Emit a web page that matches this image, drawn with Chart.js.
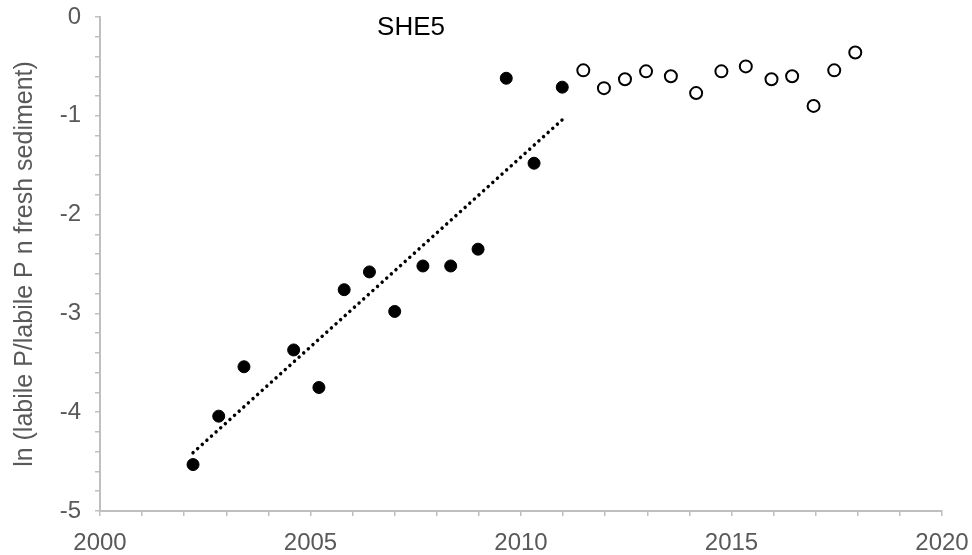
<!DOCTYPE html>
<html>
<head>
<meta charset="utf-8">
<script src="https://cdn.jsdelivr.net/npm/chart.js@4"></script>
<style>
    body { margin: 0; background: #ffffff; }
    #myChart { display: block; }
</style>
</head>
<body>
<canvas id="myChart" width="972" height="555"></canvas>
<script>
// Werte (Jahr / ln-Wert)
const filledYears = [2002.21, 2002.82, 2003.42, 2004.60, 2005.20, 2005.80, 2006.40, 2007.00, 2007.67, 2008.33, 2008.98, 2009.65, 2010.31, 2010.98];
const filledValues = [-4.53, -4.04, -3.54, -3.37, -3.75, -2.76, -2.58, -2.98, -2.52, -2.52, -2.35, -0.62, -1.48, -0.71];

const openYears = [2011.48, 2011.97, 2012.47, 2012.97, 2013.56, 2014.16, 2014.76, 2015.34, 2015.95, 2016.44, 2016.95, 2017.44, 2017.94];
const openValues = [-0.54, -0.72, -0.63, -0.55, -0.60, -0.77, -0.55, -0.50, -0.63, -0.60, -0.90, -0.54, -0.36];

// Trendlinie (Anfang und Ende)
const trendYears = [2002.21, 2010.98];
const trendValues = [-4.41, -1.04];

const xTickLabels = [2000, 2005, 2010, 2015, 2020];
const yTickLabels = [0, -1, -2, -3, -4, -5];

const chartTitle = 'SHE5';
const yAxisTitle = 'ln (labile P/labile P n fresh sediment)';

function toPoints(xs, ys) {
    return xs.map((x, i) => ({ x: x, y: ys[i] }));
}

Chart.defaults.font.family = "'Liberation Sans', Arial, sans-serif";

// Titel "SHE5" im Diagramm
const titlePlugin = {
    id: 'innerTitle',
    afterDraw(chart) {
        const ctx = chart.ctx;
        ctx.save();
        ctx.font = '26px "Liberation Sans", Arial, sans-serif';
        ctx.fillStyle = '#000000';
        ctx.textAlign = 'center';
        ctx.textBaseline = 'middle';
        ctx.fillText(chartTitle, 411, 28);
        ctx.restore();
    }
};

const ctx = document.getElementById('myChart').getContext('2d');

new Chart(ctx, {
    type: 'scatter',
    data: {
        datasets: [
            {
                type: 'line',
                label: 'Trend',
                data: toPoints(trendYears, trendValues),
                borderColor: '#000000',
                borderWidth: 3.5,
                borderDash: [0.01, 6.2],
                borderCapStyle: 'round',
                pointRadius: 0,
                fill: false
            },
            {
                label: 'filled',
                data: toPoints(filledYears, filledValues),
                backgroundColor: '#000000',
                borderColor: '#000000',
                borderWidth: 1,
                pointRadius: 6
            },
            {
                label: 'open',
                data: toPoints(openYears, openValues),
                backgroundColor: '#ffffff',
                borderColor: '#000000',
                borderWidth: 2,
                pointRadius: 6
            }
        ]
    },
    options: {
        responsive: false,
        animation: false,
        layout: {
            padding: { left: 0, top: 17, right: 30, bottom: 0 }
        },
        plugins: {
            legend: { display: false },
            tooltip: { enabled: false }
        },
        scales: {
            x: {
                type: 'linear',
                min: 2000,
                max: 2020,
                afterFit(scale) {
                    scale.height = 44;
                    scale.paddingLeft = 0;
                    scale.paddingRight = 0;
                },
                ticks: {
                    stepSize: 1,
                    autoSkip: false,
                    maxRotation: 0,
                    color: '#595959',
                    font: { size: 24 },
                    padding: 13,
                    callback: function(value) {
                        return xTickLabels.includes(Math.round(value)) && Math.abs(value - Math.round(value)) < 1e-6 ? String(Math.round(value)) : '';
                    }
                },
                grid: {
                    drawOnChartArea: false,
                    drawTicks: true,
                    tickLength: 5,
                    color: '#bfbfbf',
                    lineWidth: 1.5
                },
                border: { color: '#bfbfbf', width: 2 }
            },
            y: {
                min: -5,
                max: 0,
                afterFit(scale) {
                    scale.width = 100;
                    scale.paddingTop = 0;
                    scale.paddingBottom = 0;
                },
                ticks: {
                    stepSize: 0.2,
                    autoSkip: false,
                    color: '#595959',
                    font: { size: 24 },
                    padding: 14,
                    callback: function(value) {
                        const r = Math.round(value);
                        if (Math.abs(value - r) < 1e-6 && yTickLabels.includes(r)) {
                            return r === 0 ? '0' : String(r);
                        }
                        return '';
                    }
                },
                grid: {
                    drawOnChartArea: false,
                    drawTicks: true,
                    tickLength: 5,
                    color: '#bfbfbf',
                    lineWidth: 1.5
                },
                border: { color: '#bfbfbf', width: 2 },
                title: {
                    display: true,
                    text: yAxisTitle,
                    color: '#595959',
                    font: { size: 25 },
                    padding: { top: 10, bottom: 0 }
                }
            }
        }
    },
    plugins: [titlePlugin]
});
</script>
</body>
</html>
